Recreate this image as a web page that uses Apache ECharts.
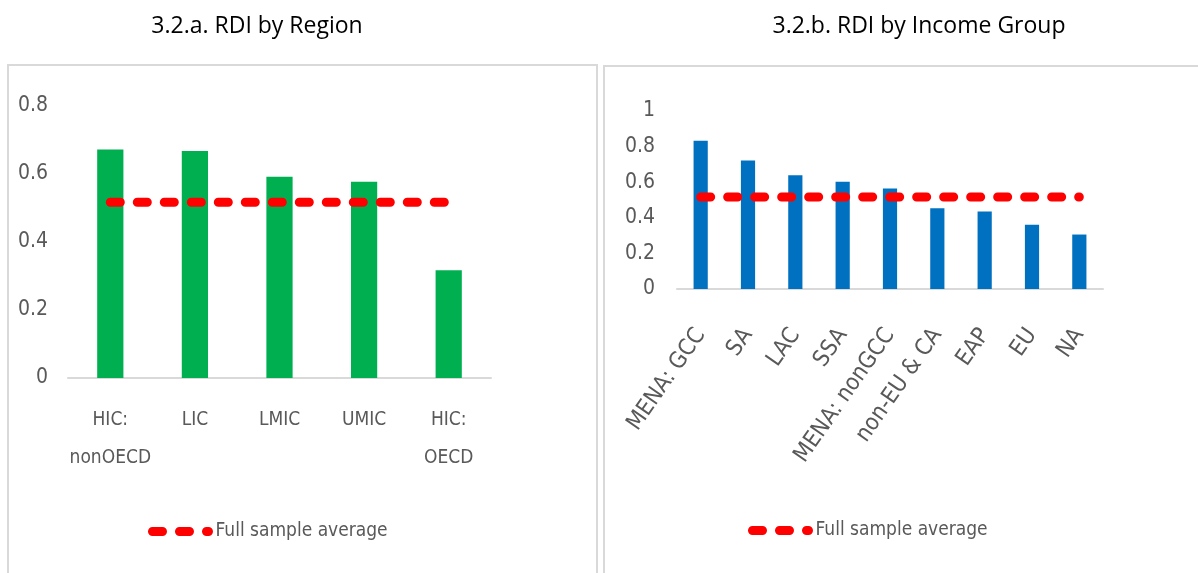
<!DOCTYPE html>
<html>
<head>
<meta charset="utf-8">
<script src="https://cdn.jsdelivr.net/npm/echarts@6/dist/echarts.min.js"></script>
<style>
  html, body { margin: 0; padding: 0; background: #fff; }
  #chart { width: 1198px; height: 573px; }
</style>
</head>
<body>
<div id="chart"></div>
<script>
// Panel a: RDI by region / income level
const regionCats = ['HIC:\nnonOECD', 'LIC', 'LMIC', 'UMIC', 'HIC:\nOECD']
const regionRdi = [0.672, 0.668, 0.592, 0.577, 0.317]
const regionAvg = [0.517, 0.517, 0.517, 0.517, 0.517]

// Panel b: RDI by region group
const groupCats = ['MENA: GCC', 'SA', 'LAC', 'SSA', 'MENA: nonGCC', 'non-EU & CA', 'EAP', 'EU', 'NA']
const groupRdi = [0.833, 0.722, 0.639, 0.602, 0.565, 0.454, 0.435, 0.361, 0.306]
const groupAvg = [0.517, 0.517, 0.517, 0.517, 0.517, 0.517, 0.517, 0.517, 0.517]

const leftTicksMax = 0.8
const rightTicksMax = 1

const FONT = '"Open Sans", "Noto Sans", sans-serif'
const NARROW = '"Liberation Sans Narrow", "DejaVu Sans Condensed", "Open Sans", sans-serif'
const GRAY = '#595959'
const AXIS = '#d9d9d9'

const avgLine = {
  color: '#ff0000',
  width: 9,
  type: [10, 17],
  cap: 'round'
}

const legendBase = {
  data: ['Full sample average'],
  itemWidth: 56, itemHeight: 10,
  lineStyle: { width: 9, type: [10, 17], cap: 'round' },
  textStyle: { fontFamily: NARROW, fontSize: 19, color: GRAY, padding: [0, 0, 0, 2] }
}

const chart = echarts.init(document.getElementById('chart'))

chart.setOption({
  animation: false,
  textStyle: { fontFamily: FONT },
  title: [
    {
      text: '3.2.a. RDI by Region',
      left: 252, top: 10, textAlign: 'center',
      textStyle: { fontFamily: FONT, fontSize: 23, fontWeight: 'normal', color: '#000' }
    },
    {
      text: '3.2.b. RDI by Income Group',
      left: 914, top: 10, textAlign: 'center',
      textStyle: { fontFamily: FONT, fontSize: 23, fontWeight: 'normal', color: '#000' }
    }
  ],
  graphic: [
    {
      type: 'rect', silent: true,
      shape: { x: 8, y: 65, width: 589, height: 520 },
      style: { fill: 'none', stroke: AXIS, lineWidth: 2 }
    },
    {
      type: 'rect', silent: true,
      shape: { x: 604, y: 66, width: 600, height: 520 },
      style: { fill: 'none', stroke: AXIS, lineWidth: 2 }
    }
  ],
  legend: [
    Object.assign({ left: 143, top: 517 }, legendBase),
    Object.assign({ left: 743, top: 516 }, legendBase)
  ],
  grid: [
    { left: 68, right: 707, top: 106, bottom: 195 },
    { left: 677, right: 95, top: 111, bottom: 284 }
  ],
  xAxis: [
    {
      type: 'category', gridIndex: 0, data: regionCats,
      axisLine: { lineStyle: { color: AXIS, width: 2 } },
      axisTick: { show: false },
      axisLabel: { color: GRAY, fontSize: 19, lineHeight: 38, margin: 23, interval: 0, fontFamily: NARROW }
    },
    {
      type: 'category', gridIndex: 1, data: groupCats,
      axisLine: { lineStyle: { color: AXIS, width: 2 } },
      axisTick: { show: false },
      axisLabel: { color: GRAY, fontSize: 23, rotate: 55, margin: 42, interval: 0, fontFamily: NARROW }
    }
  ],
  yAxis: [
    {
      type: 'value', gridIndex: 0, min: 0, max: leftTicksMax, interval: 0.2,
      axisLine: { show: false }, axisTick: { show: false }, splitLine: { show: false },
      axisLabel: { color: GRAY, fontSize: 21, margin: 20, fontFamily: NARROW }
    },
    {
      type: 'value', gridIndex: 1, min: 0, max: rightTicksMax, interval: 0.2,
      axisLine: { show: false }, axisTick: { show: false }, splitLine: { show: false },
      axisLabel: { color: GRAY, fontSize: 21, margin: 22, fontFamily: NARROW }
    }
  ],
  series: [
    {
      name: 'RDI by region', type: 'bar', xAxisIndex: 0, yAxisIndex: 0,
      data: regionRdi, barWidth: '31%',
      itemStyle: { color: '#00b050' }
    },
    {
      name: 'Full sample average', type: 'line', xAxisIndex: 0, yAxisIndex: 0,
      data: regionAvg, symbol: 'none', lineStyle: avgLine, itemStyle: { color: '#ff0000' }
    },
    {
      name: 'RDI by group', type: 'bar', xAxisIndex: 1, yAxisIndex: 1,
      data: groupRdi, barWidth: '30%',
      itemStyle: { color: '#0070c0' }
    },
    {
      name: 'Full sample average', type: 'line', xAxisIndex: 1, yAxisIndex: 1,
      data: groupAvg, symbol: 'none', lineStyle: avgLine, itemStyle: { color: '#ff0000' }
    }
  ]
})
</script>
</body>
</html>
